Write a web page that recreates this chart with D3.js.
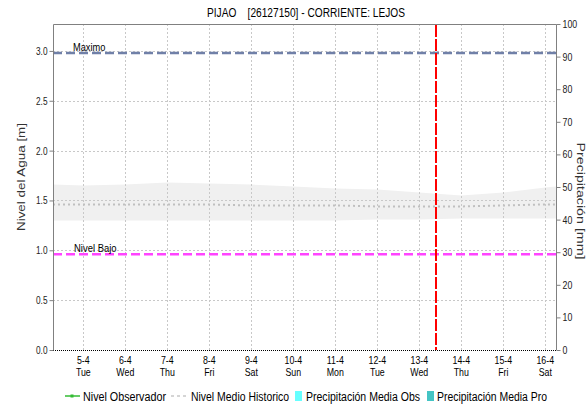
<!DOCTYPE html>
<html><head><meta charset="utf-8">
<script src="https://cdn.jsdelivr.net/npm/d3@7"></script>
<style>body{margin:0;background:#fff}svg{display:block;font-family:"Liberation Sans",Arial,sans-serif}</style>
</head><body><svg id="c" width="587" height="404"></svg>
<script>
const title = "PIJAO    [26127150] - CORRIENTE: LEJOS";
const bandTimes = ["2022-04-04T06:40","2022-04-05T00:00","2022-04-06T00:00","2022-04-07T00:00","2022-04-08T00:00","2022-04-09T00:00","2022-04-10T00:00","2022-04-11T00:00","2022-04-12T00:00","2022-04-13T00:00","2022-04-14T00:00","2022-04-15T00:00","2022-04-16T00:00","2022-04-16T06:07"];
const bandUpper = [1.66,1.65,1.66,1.68,1.67,1.66,1.64,1.62,1.61,1.58,1.55,1.58,1.63,1.64];
const bandLower = [1.30,1.30,1.30,1.30,1.30,1.30,1.30,1.30,1.31,1.31,1.32,1.32,1.32,1.32];
const meanLevel = [1.46,1.46,1.46,1.46,1.46,1.45,1.45,1.45,1.44,1.44,1.44,1.45,1.46,1.46];
const tickDates = ["2022-04-05","2022-04-06","2022-04-07","2022-04-08","2022-04-09","2022-04-10","2022-04-11","2022-04-12","2022-04-13","2022-04-14","2022-04-15","2022-04-16"];
const tickDay = ["5-4","6-4","7-4","8-4","9-4","10-4","11-4","12-4","13-4","14-4","15-4","16-4"];
const tickWeekday = ["Tue","Wed","Thu","Fri","Sat","Sun","Mon","Tue","Wed","Thu","Fri","Sat"];
const leftTicks = [0.0,0.5,1.0,1.5,2.0,2.5,3.0];
const rightTicks = [0,10,20,30,40,50,60,70,80,90,100];
const nivelMaximo = 2.98;
const nivelBajo = 0.96;
const nowTime = "2022-04-13T08:45";
const timeDomain = ["2022-04-04T06:40","2022-04-16T06:07"];
const legendItems = ["Nivel Observador","Nivel Medio Historico","Precipitación Media Obs","Precipitación Media Pro"];

const svg = d3.select("#c");
const L=53, R=556, T=24, B=350;
const parse = s => new Date(s);
const x = d3.scaleTime().domain(timeDomain.map(parse)).range([L,R]);
const y = d3.scaleLinear().domain([0,3.27]).range([B,T]);
const y2 = d3.scaleLinear().domain([0,100]).range([B,T]);
function squeeze(sel, f){ sel.each(function(){ const w=this.getComputedTextLength(); this.setAttribute("textLength", w*f); this.setAttribute("lengthAdjust","spacingAndGlyphs"); }); }
function fitTo(sel, w){ sel.attr("textLength", w).attr("lengthAdjust","spacingAndGlyphs"); }

// band
const bandData = bandTimes.map((t,i)=>({t:parse(t),u:bandUpper[i],l:bandLower[i],m:meanLevel[i]}));
svg.append("path").datum(bandData)
  .attr("d", d3.area().x(d=>x(d.t)).y0(d=>y(d.l)).y1(d=>y(d.u)))
  .attr("fill","#f0f0f0");

// gridlines
const g = svg.append("g");
g.selectAll("line.h").data(leftTicks.filter(v=>v>0)).join("line").attr("class","h")
  .attr("x1",L).attr("x2",R).attr("y1",d=>Math.round(y(d))+0.5).attr("y2",d=>Math.round(y(d))+0.5)
  .attr("stroke","#c8c8c8").attr("stroke-dasharray","2,2");
g.selectAll("line.v").data(tickDates.map(parse)).join("line").attr("class","v")
  .attr("x1",d=>Math.round(x(d))+0.5).attr("x2",d=>Math.round(x(d))+0.5).attr("y1",T).attr("y2",B)
  .attr("stroke","#c8c8c8").attr("stroke-dasharray","2,2");

// mean historic line
svg.append("path").datum(bandData)
  .attr("d", d3.line().x(d=>x(d.t)).y(d=>y(d.m)))
  .attr("fill","none").attr("stroke","#c0c0c0").attr("stroke-width",2).attr("stroke-dasharray","2,3");

// threshold lines
svg.append("line").attr("x1",L).attr("x2",R).attr("y1",y(nivelMaximo)).attr("y2",y(nivelMaximo))
  .attr("stroke","#7080a8").attr("stroke-width",2.5).attr("stroke-dasharray","9,4");
svg.append("line").attr("x1",L).attr("x2",R).attr("y1",y(nivelBajo)).attr("y2",y(nivelBajo))
  .attr("stroke","#ff44ff").attr("stroke-width",2.5).attr("stroke-dasharray","9,4");
svg.append("text").attr("x",L+20).attr("y",y(nivelMaximo)-2).attr("font-size",10.5).text("Maximo").call(squeeze,0.88);
svg.append("text").attr("x",L+21).attr("y",y(nivelBajo)-2).attr("font-size",10.5).text("Nivel Bajo").call(squeeze,0.9);

// now line
const nx = Math.round(x(parse(nowTime)));
svg.append("line").attr("x1",nx+1).attr("x2",nx+1).attr("y1",T+1).attr("y2",B)
  .attr("stroke","#ff0000").attr("stroke-width",2).attr("shape-rendering","crispEdges").attr("stroke-dasharray","12,2");

// border
svg.append("path").attr("d",`M${L+0.5},${B}V${T+0.5}H${R+0.5}V${B}`).attr("fill","none").attr("stroke","#808080");
svg.append("line").attr("x1",L).attr("x2",R+1).attr("y1",B+0.5).attr("y2",B+0.5)
  .attr("stroke","#000").attr("stroke-dasharray","1,1");

// left axis
const la = svg.append("g").attr("transform",`translate(${L+0.5},0)`)
  .call(d3.axisLeft(y).tickValues(leftTicks).tickFormat(d3.format(".1f")).tickSize(4).tickPadding(2));
la.select(".domain").remove();
la.selectAll("line").attr("stroke","#808080");
la.selectAll("text").attr("font-size",11).attr("font-family","Liberation Sans, Arial, sans-serif").attr("fill","#222").call(squeeze,0.75);
// right axis
const ra = svg.append("g").attr("transform",`translate(${R+0.5},0)`)
  .call(d3.axisRight(y2).tickValues(rightTicks).tickSize(4).tickPadding(2));
ra.select(".domain").remove();
ra.selectAll("line").attr("stroke","#808080");
ra.selectAll("text").attr("font-size",11).attr("font-family","Liberation Sans, Arial, sans-serif").attr("fill","#222").call(squeeze,0.8);

// x labels
const xl = svg.append("g");
tickDates.forEach((d,i)=>{
  const px = x(parse(d));
  xl.append("text").attr("x",px).attr("y",364).attr("text-anchor","middle").attr("font-size",11).text(tickDay[i]).call(squeeze,0.8);
  xl.append("text").attr("x",px).attr("y",376).attr("text-anchor","middle").attr("font-size",11).text(tickWeekday[i]).call(squeeze,0.8);
});

// titles
svg.append("text").attr("x",207).attr("y",17).attr("font-size",12.5)
  .style("white-space","pre").text(title).call(fitTo,198);
svg.append("text").attr("transform",`translate(25,177) rotate(-90)`).attr("text-anchor","middle")
  .attr("font-size",10.5).attr("fill","#333").text("Nivel del Agua [m]").call(fitTo,108);
svg.append("text").attr("transform",`translate(577,201) rotate(90)`).attr("text-anchor","middle")
  .attr("font-size",10.5).attr("fill","#333").text("Precipitación [mm]").call(fitTo,117);

// legend
const lg = svg.append("g");
const ly = 396;
lg.append("line").attr("x1",65).attr("x2",80).attr("y1",ly).attr("y2",ly).attr("stroke","#33bb33").attr("stroke-width",1.5);
lg.append("rect").attr("x",70.5).attr("y",ly-1.5).attr("width",3).attr("height",3).attr("fill","#33bb33");
lg.append("text").attr("x",83).attr("y",ly+4.5).attr("font-size",12).text(legendItems[0]).call(fitTo,83);
lg.append("line").attr("x1",171).attr("x2",186).attr("y1",ly).attr("y2",ly).attr("stroke","#c8c8c8").attr("stroke-width",1.5).attr("stroke-dasharray","3,3");
lg.append("text").attr("x",191).attr("y",ly+4.5).attr("font-size",12).text(legendItems[1]).call(fitTo,98);
lg.append("rect").attr("x",295).attr("y",ly-5).attr("width",7).attr("height",10).attr("fill","#66ffff");
lg.append("text").attr("x",306).attr("y",ly+4.5).attr("font-size",12).text(legendItems[2]).call(fitTo,114);
lg.append("rect").attr("x",427).attr("y",ly-5).attr("width",7).attr("height",10).attr("fill","#44c4c4");
lg.append("text").attr("x",437).attr("y",ly+4.5).attr("font-size",12).text(legendItems[3]).call(fitTo,110);
</script></body></html>
